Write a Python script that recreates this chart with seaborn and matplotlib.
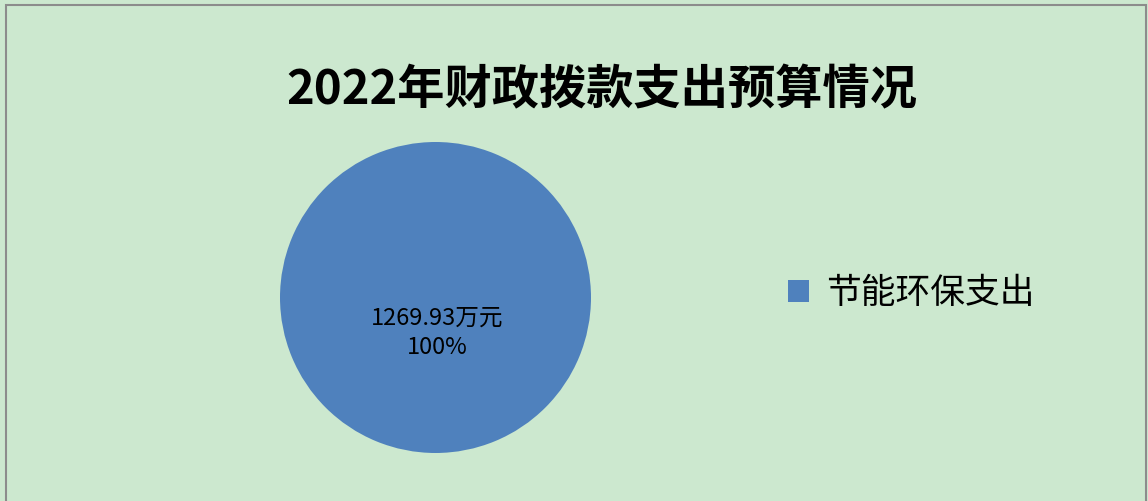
import matplotlib
matplotlib.use("Agg")
import matplotlib.pyplot as plt
import seaborn as sns
from matplotlib.patches import Rectangle

# data
categories = ["节能环保支出"]
amounts = [1269.93]
title = "2022年财政拨款支出预算情况"

sns.set_theme(style="white")
plt.rcParams['font.family'] = ['Noto Sans CJK SC', 'DejaVu Sans']

bg = "#CCE8CF"
blue = "#4F81BD"

fig = plt.figure(figsize=(11.48, 5.01), dpi=100, facecolor=bg)
# chart border
fig.patches.append(Rectangle((6 / 1148, -0.01), 1140 / 1148, 1 - 5 / 501 + 0.01,
                             transform=fig.transFigure, fill=False,
                             edgecolor="#8C8C8C", linewidth=1.5))

ax = fig.add_axes([280 / 1148, 48 / 501, 311 / 1148, 311 / 501])
ax.set_facecolor(bg)
total = sum(amounts)
wedges, _ = ax.pie(amounts, colors=[blue], startangle=90, counterclock=False,
                   wedgeprops=dict(linewidth=0))
for w, v in zip(wedges, amounts):
    ax.text(0.01, -0.23, f"{v:.2f}万元\n{v / total:.0%}", ha="center", va="center",
            fontsize=17, color="black", linespacing=1.35)
ax.set_xlim(-1, 1)
ax.set_ylim(-1, 1)
ax.set_aspect("equal")
ax.axis("off")

fig.text(0.524, 411 / 501, title, ha="center", va="center",
         fontsize=34, fontweight="bold", color="black")

leg = fig.legend(wedges, categories, loc="center left",
                 bbox_to_anchor=(757 / 1148, 207 / 501), frameon=False,
                 fontsize=25, handlelength=0.6, handleheight=0.6, handletextpad=0.5)
for t in leg.get_texts():
    t.set_color("black")
    t.set_fontweight("medium")

fig.savefig("out.png", dpi=100, facecolor=bg)
